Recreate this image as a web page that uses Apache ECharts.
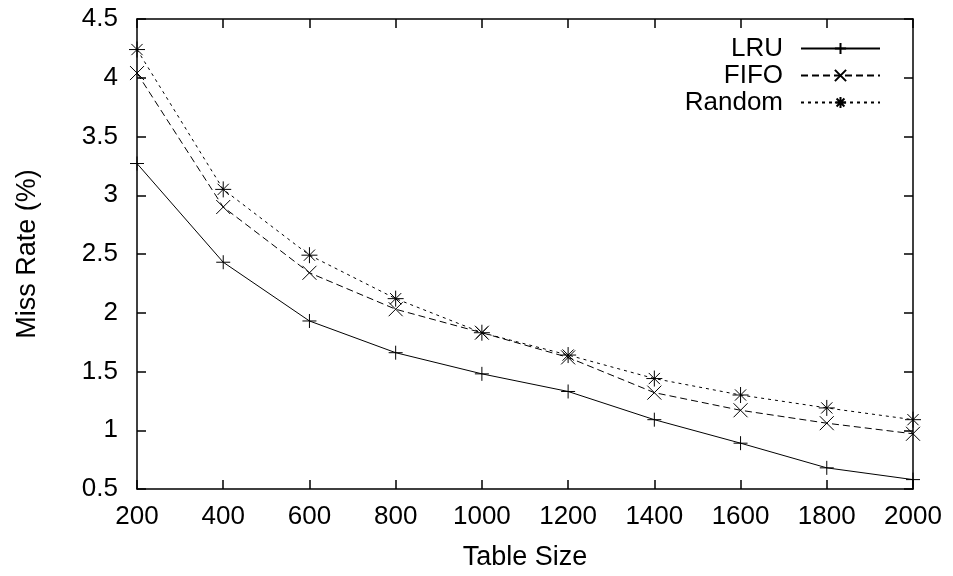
<!DOCTYPE html>
<html>
<head>
<meta charset="utf-8">
<script src="https://cdn.jsdelivr.net/npm/echarts@6/dist/echarts.min.js"></script>
<style>
  html, body { margin: 0; padding: 0; background: #fff; }
  #chart { width: 953px; height: 576px; }
</style>
</head>
<body>
<div id="chart"></div>
<script>
// table sizes
var tableSizes = [200, 400, 600, 800, 1000, 1200, 1400, 1600, 1800, 2000];
// miss rate (%) per policy
var lruRate = [3.27, 2.43, 1.93, 1.66, 1.48, 1.33, 1.09, 0.89, 0.68, 0.58];
var fifoRate = [4.04, 2.90, 2.34, 2.03, 1.83, 1.62, 1.32, 1.17, 1.06, 0.97];
var randomRate = [4.24, 3.05, 2.49, 2.12, 1.83, 1.64, 1.44, 1.30, 1.19, 1.09];

function pairs(ys) {
    return tableSizes.map(function (x, i) { return [x, ys[i]]; });
}

var font = 'Liberation Sans, Arial, sans-serif';
var fsize = 26;
var nsize = 27;
var plus = 'path://M5,0L5,10M0,5L10,5';
var cross = 'path://M0,0L10,10M10,0L0,10';
var star = 'path://M5,0L5,10M0,5L10,5M1.5,1.5L8.5,8.5M8.5,1.5L1.5,8.5';

function mkSeries(name, ys, symbol, dash, size) {
    return {
        name: name,
        type: 'line',
        data: pairs(ys),
        symbol: symbol,
        symbolSize: size,
        showAllSymbol: true,
        animation: false,
        lineStyle: { color: '#000', width: 1, type: dash },
        itemStyle: { color: 'none', borderColor: '#000', borderWidth: 1 },
        emphasis: { disabled: true }
    };
}

var chart = echarts.init(document.getElementById('chart'));
var boxAxis = { lineStyle: { color: '#000', width: 1.5 } };
var inTick = { inside: true, length: 9, lineStyle: { color: '#000', width: 1.5 } };

chart.setOption({
    backgroundColor: '#fff',
    animation: false,
    grid: { left: 137, right: 40, top: 19, bottom: 87 },
    legend: {
        orient: 'vertical',
        right: 67,
        top: 30,
        align: 'right',
        itemWidth: 79,
        itemHeight: 14,
        itemGap: 0,
        textStyle: { fontFamily: font, fontSize: fsize, color: '#000', padding: [0, 13, 0, 0], lineHeight: 27 },
        data: ['LRU', 'FIFO', 'Random']
    },
    xAxis: [{
        type: 'value',
        min: 200, max: 2000, interval: 200,
        name: 'Table Size',
        nameLocation: 'middle',
        nameGap: 55,
        nameTextStyle: { fontFamily: font, fontSize: nsize, color: '#000' },
        axisLine: boxAxis,
        axisTick: inTick,
        splitLine: { show: false },
        axisLabel: { fontFamily: font, fontSize: fsize, color: '#000', margin: 15,
            formatter: function (v) { return String(v); } }
    }, {
        type: 'value', position: 'top',
        min: 200, max: 2000, interval: 200,
        axisLine: boxAxis, axisTick: inTick,
        splitLine: { show: false }, axisLabel: { show: false }
    }],
    yAxis: [{
        type: 'value',
        min: 0.5, max: 4.5, interval: 0.5,
        name: 'Miss Rate (%)',
        nameLocation: 'middle',
        nameGap: 96,
        nameRotate: 90,
        nameTextStyle: { fontFamily: font, fontSize: nsize, color: '#000' },
        axisLine: boxAxis,
        axisTick: inTick,
        splitLine: { show: false },
        axisLabel: { fontFamily: font, fontSize: fsize, color: '#000', margin: 19 }
    }, {
        type: 'value', position: 'right',
        min: 0.5, max: 4.5, interval: 0.5,
        axisLine: boxAxis, axisTick: inTick,
        splitLine: { show: false }, axisLabel: { show: false }
    }],
    series: [
        mkSeries('LRU', lruRate, plus, 'solid', 14),
        mkSeries('FIFO', fifoRate, cross, [7, 4], 14),
        mkSeries('Random', randomRate, star, [3, 4], 16)
    ]
});
</script>
</body>
</html>
